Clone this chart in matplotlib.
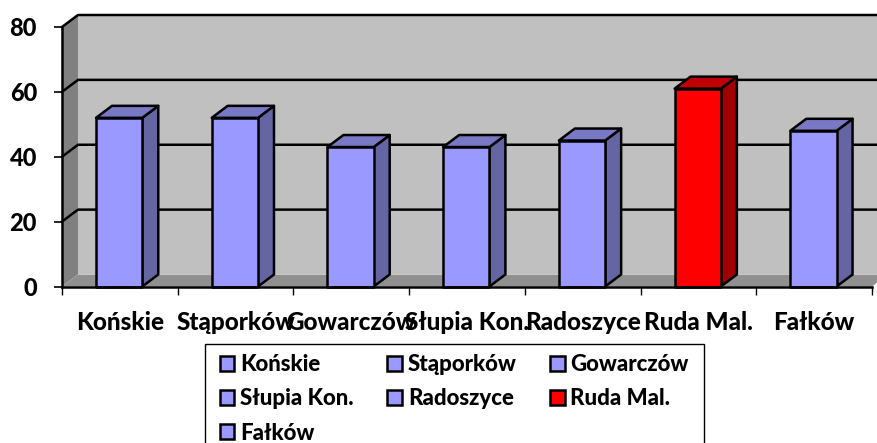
"""3D-style column chart drawn with plain polygons"""
import matplotlib
matplotlib.use('Agg')
import matplotlib.pyplot as plt
from matplotlib.patches import Patch, Polygon, Rectangle

plt.rcParams['font.family'] = ['Lato', 'DejaVu Sans']
plt.rcParams['font.weight'] = 'black'

TOWNS = ['Końskie', 'Stąporków', 'Gowarczów', 'Słupia Kon.', 'Radoszyce', 'Ruda Mal.', 'Fałków']
VALUES = [52, 52, 43, 43, 45, 61, 48]
Y_TICKS = [0, 20, 40, 60, 80]
HIGHLIGHT = 'Ruda Mal.'

W, H = 878, 443
DEPTH_X = 0.138
DEPTH_Y = 3.7
BAR_LEFT = 0.294
BAR_WIDTH = 0.40
LW = 1.8

BLUE = ('#9999ff', '#6565a3', '#7878c4')
RED = ('#ff0000', '#a00000', '#c00000')


def poly(ax, points, color, edge='none', z=1):
    ax.add_patch(Polygon(points, closed=True, facecolor=color, edgecolor=edge, lw=LW,
                         zorder=z, clip_on=False, joinstyle='round'))


def draw_walls(ax):
    n = len(TOWNS)
    top = Y_TICKS[-1]
    poly(ax, [(0, 0), (DEPTH_X, DEPTH_Y), (DEPTH_X, top + DEPTH_Y), (0, top)], '#808080')
    poly(ax, [(DEPTH_X, DEPTH_Y), (n + DEPTH_X, DEPTH_Y), (n + DEPTH_X, top + DEPTH_Y), (DEPTH_X, top + DEPTH_Y)],
         '#c0c0c0')
    poly(ax, [(0, 0), (n, 0), (n + DEPTH_X, DEPTH_Y), (DEPTH_X, DEPTH_Y)], '#909090')
    for y in Y_TICKS[1:]:
        ax.plot([0, DEPTH_X, n + DEPTH_X], [y, y + DEPTH_Y, y + DEPTH_Y], color='black', lw=LW,
                zorder=2, clip_on=False)


def draw_bar(ax, pos, value, colors):
    left = pos + BAR_LEFT
    right = left + BAR_WIDTH
    front, side, cap = colors
    poly(ax, [(right, 0), (right + DEPTH_X, DEPTH_Y), (right + DEPTH_X, value + DEPTH_Y), (right, value)],
         side, 'black', 3)
    poly(ax, [(left, value), (right, value), (right + DEPTH_X, value + DEPTH_Y), (left + DEPTH_X, value + DEPTH_Y)],
         cap, 'black', 3)
    poly(ax, [(left, 0), (right, 0), (right, value), (left, value)], front, 'black', 4)


fig = plt.figure(figsize=(W / 100, H / 100), dpi=100)
ax = fig.add_axes([62 / W, 1 - 286.5 / H, 810 / W, 259.5 / H])
ax.set_xlim(0, len(TOWNS))
ax.set_ylim(0, Y_TICKS[-1])
ax.patch.set_visible(False)
for name in ('top', 'right'):
    ax.spines[name].set_visible(False)
for name in ('left', 'bottom'):
    ax.spines[name].set_linewidth(LW)
    ax.spines[name].set_zorder(5)

draw_walls(ax)
for i, (town, value) in enumerate(zip(TOWNS, VALUES)):
    draw_bar(ax, i, value, RED if town == HIGHLIGHT else BLUE)

ax.set_yticks(Y_TICKS)
ax.tick_params(axis='y', length=6, width=1.2, pad=12, labelsize=17)
ax.set_xticks(range(len(TOWNS) + 1))
ax.set_xticklabels([])
ax.tick_params(axis='x', which='major', length=6, width=1)
ax.set_xticks([i + 0.5 for i in range(len(TOWNS))], TOWNS, minor=True)
ax.tick_params(axis='x', which='minor', length=0, pad=17.5, labelsize=17.5)

# legend frame runs off the bottom of the picture, so it is separate from the legend
fig.add_artist(Rectangle((205 / W, -0.05), 499 / W, 1.05 - 344 / H, transform=fig.transFigure,
                         facecolor='white', edgecolor='black', lw=1, zorder=3))

handles = [Patch(facecolor=RED[0] if t == HIGHLIGHT else BLUE[0], edgecolor='black', lw=LW, label=t) for t in TOWNS]
# matplotlib fills the legend by columns, the reference reads by rows
order = [0, 3, 6, 1, 4, 2, 5]
leg = fig.legend([handles[i] for i in order], [TOWNS[i] for i in order], ncols=3,
                 loc='upper left', bbox_to_anchor=(220 / W, 1 - 354 / H), bbox_transform=fig.transFigure,
                 fontsize=16, frameon=False,
                 handlelength=0.65, handleheight=0.65, handletextpad=0.27, columnspacing=1.5,
                 labelspacing=0.6, borderpad=0, borderaxespad=0)
leg.set_zorder(4)

fig.savefig('out.png', dpi=100)
